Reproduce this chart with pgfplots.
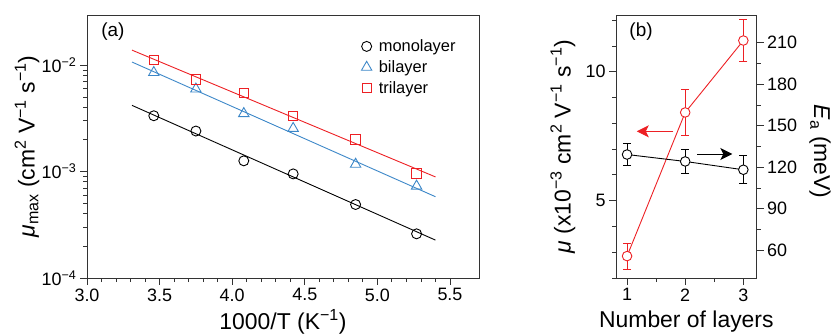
\documentclass[border=0pt]{standalone}
\usepackage{pgfplots}
\pgfplotsset{compat=1.18}
\usetikzlibrary{arrows.meta}
\usepackage{fontspec}
\setmainfont{Liberation Sans}
\definecolor{myred}{RGB}{237,32,36}
\definecolor{myblue}{RGB}{60,135,200}
\pgfplotsset{
  /pgf/number format/assume math mode=true,
  common/.style={
    scale only axis, anchor=south west,
    tick align=outside,
    major tick length=7bp, minor tick length=4bp,
    every tick/.style={black!80, line width=0.8bp},
    axis line style={black!80, line width=0.9bp},
    tick label style={font=\fontsize{18}{20}\selectfont},
    label style={font=\fontsize{23}{26}\selectfont},
  }
}
\begin{document}
\begin{tikzpicture}[x=1bp,y=1bp]
\useasboundingbox (0,0) rectangle (832,335);
% ---------------- panel (a)
\begin{axis}[common,
  at={(87bp,57bp)}, width=392bp, height=263bp,
  xmin=3.0, xmax=5.7, ymode=log, ymin=1e-4, ymax=0.0295,
  xtick={3,3.5,4,4.5,5,5.5}, minor x tick num=4,
  xticklabel style={/pgf/number format/.cd, fixed, fixed zerofill, precision=1},
  ytick={1e-4,1e-3,1e-2},
  yticklabels={10\textsuperscript{−4},10\textsuperscript{−3},10\textsuperscript{−2}},
  tick pos=left,
  xlabel={1000/T (K\textsuperscript{−1})},
  ylabel={\textit{μ}\textsubscript{max} (cm\textsuperscript{2} V\textsuperscript{−1} s\textsuperscript{−1})},
  xlabel style={at={(axis description cs:0.5,-0.167)}, anchor=center},
  ylabel style={at={(axis description cs:-0.153,0.5)}, anchor=center},
  legend style={draw=none, fill=none, at={(axis description cs:0.692,0.922)}, anchor=north west,
    font=\fontsize{16.5}{19}\selectfont, row sep=3.5bp},
  legend cell align=left,
]
\addplot[only marks, mark=o, black, mark size=5bp, mark options={line width=0.9bp}] coordinates {
 (3.46,3.34e-3) (3.75,2.40e-3) (4.08,1.26e-3) (4.42,9.5e-4) (4.85,4.9e-4) (5.27,2.6e-4)};
\addlegendentry{\hspace{5bp}monolayer}
\addplot[only marks, mark=triangle, myblue, mark size=6bp, mark options={line width=0.9bp}] coordinates {
 (3.46,8.5e-3) (3.75,5.95e-3) (4.08,3.5e-3) (4.42,2.54e-3) (4.85,1.17e-3) (5.27,7.3e-4)};
\addlegendentry{\hspace{5bp}bilayer}
\addplot[only marks, mark=square, myred, mark size=4.7bp, mark options={line width=0.9bp}] coordinates {
 (3.46,1.11e-2) (3.75,7.3e-3) (4.08,5.5e-3) (4.42,3.34e-3) (4.85,2.0e-3) (5.27,9.6e-4)};
\addlegendentry{\hspace{5bp}trilayer}
\addplot[forget plot, black, line width=0.9bp] coordinates {(3.31,4.18e-3) (5.40,2.27e-4)};
\addplot[forget plot, myblue, line width=0.9bp] coordinates {(3.31,1.067e-2) (5.40,5.8e-4)};
\addplot[forget plot, myred, line width=0.9bp] coordinates {(3.31,1.38e-2) (5.40,8.9e-4)};
\node[font=\fontsize{19}{21}\selectfont] at (axis description cs:0.066,0.935) {(a)};
\end{axis}
% ---------------- panel (b) left axis
\begin{axis}[common,
  at={(616bp,57bp)}, width=140.7bp, height=263bp,
  xmin=0.81, xmax=3.23, ymin=2, ymax=12.2,
  xtick={1,2,3}, minor xtick={1.5,2.5},
  ytick={5,10}, minor ytick={2,3,4,6,7,8,9,11,12},
  axis y line*=left, xtick pos=bottom,
  xlabel={Number of layers},
  ylabel={\textit{μ} (x10\textsuperscript{−3} cm\textsuperscript{2} V\textsuperscript{−1} s\textsuperscript{−1})},
  xlabel style={at={(axis description cs:0.5,-0.167)}, anchor=center},
  ylabel style={at={(axis description cs:-0.377,0.5)}, anchor=center},
]
\addplot[myred, line width=0.9bp, mark=*, mark size=4.8bp, mark options={fill=white, draw=myred, line width=0.9bp},
  error bars/.cd, y dir=both, y explicit,
  error bar style={myred, line width=0.9bp},
  error mark options={rotate=90, mark size=4bp, line width=0.9bp, myred}] coordinates {
 (1,2.85) +- (0,0.5)
 (2,8.42) +- (0,0.9)
 (3,11.21) +- (0,0.8)};
\draw[myred, line width=0.9bp, -{Stealth[length=12bp, width=12bp, inset=3bp]}] (axis cs:1.795,7.69) -- (axis cs:1.167,7.69);
\draw[black, line width=0.9bp, -{Stealth[length=12bp, width=12bp, inset=3bp]}] (axis cs:2.21,6.81) -- (axis cs:2.81,6.81);
\node[font=\fontsize{19}{21}\selectfont] at (axis description cs:0.178,0.935) {(b)};
\end{axis}
% ---------------- panel (b) right axis
\begin{axis}[common,
  at={(616bp,57bp)}, width=140.7bp, height=263bp,
  xmin=0.81, xmax=3.23, ymin=40, ymax=230,
  axis x line=none, axis y line*=right,
  ytick={60,90,120,150,180,210}, minor y tick num=1,
  ylabel={\textit{E}\textsubscript{a} (meV)},
  ylabel style={at={(axis description cs:1.45,0.48)}, anchor=center, rotate=180},
]
\addplot[black, line width=0.9bp, mark=*, mark size=4.8bp, mark options={fill=white, draw=black, line width=0.9bp},
  error bars/.cd, y dir=both, y explicit,
  error bar style={black, line width=0.9bp},
  error mark options={rotate=90, mark size=4bp, line width=0.9bp, black}] coordinates {
 (1,129.2) +- (0,8)
 (2,124.2) +- (0,9)
 (3,118.2) +- (0,10)};
\end{axis}
\end{tikzpicture}
\end{document}
